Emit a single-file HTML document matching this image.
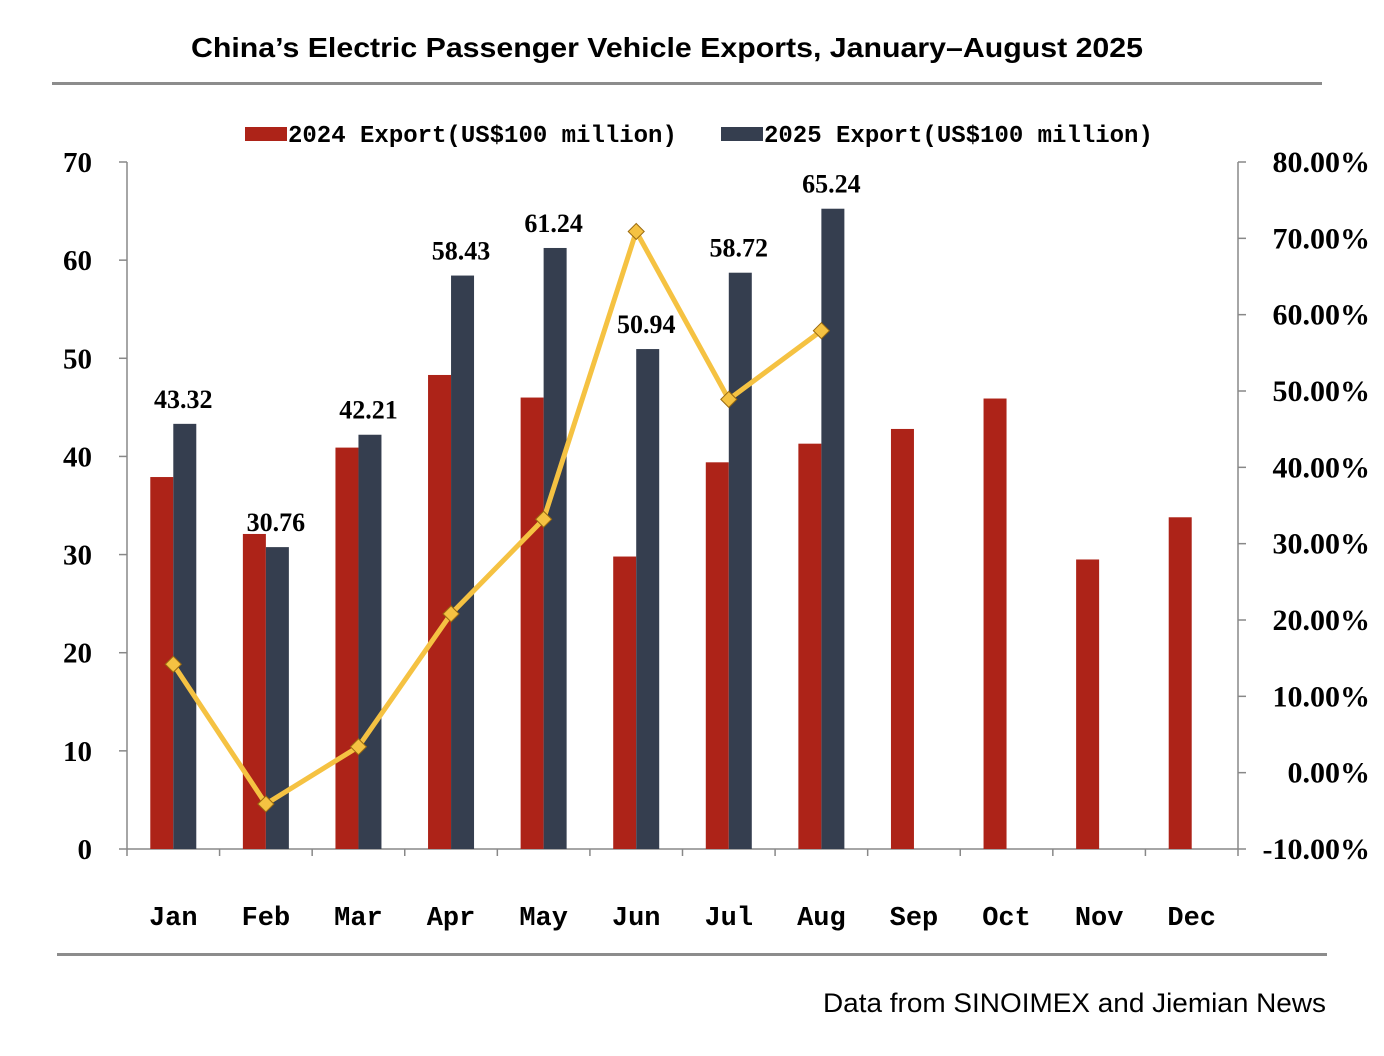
<!DOCTYPE html>
<html><head><meta charset="utf-8"><style>
body{margin:0;background:#fff}
svg{display:block}
</style></head><body>
<svg id="c" width="1384" height="1056" xmlns="http://www.w3.org/2000/svg">
<text x="667" y="57" text-anchor="middle" font-family="Liberation Sans, sans-serif" font-weight="bold" font-size="28" textLength="952" lengthAdjust="spacingAndGlyphs" fill="#000">China’s Electric Passenger Vehicle Exports, January–August 2025</text>
<rect x="52" y="82" width="1270" height="3" fill="#8c8c8c"/>
<rect x="57" y="953" width="1270" height="3" fill="#8c8c8c"/>
<text x="1326" y="1012" text-anchor="end" font-family="Liberation Sans, sans-serif" font-size="27" textLength="503" lengthAdjust="spacingAndGlyphs" fill="#000">Data from SINOIMEX and Jiemian News</text>
<g>
<rect x="245" y="127" width="42" height="14" fill="#ad2318"/>
<text x="288" y="142" font-family="Liberation Mono, monospace" font-weight="bold" font-size="24" fill="#000">2024 Export(US$100 million)</text>
<rect x="721" y="127" width="42" height="14" fill="#353e4f"/>
<text x="764" y="142" font-family="Liberation Mono, monospace" font-weight="bold" font-size="24" fill="#000">2025 Export(US$100 million)</text>
</g>
<g id="g"></g>
</svg>
<script>
const months=["Jan","Feb","Mar","Apr","May","Jun","Jul","Aug","Sep","Oct","Nov","Dec"];
const exports2024=[37.9,32.1,40.9,48.3,46.0,29.8,39.4,41.3,42.8,45.9,29.5,33.8];
const exports2025=[43.32,30.76,42.21,58.43,61.24,50.94,58.72,65.24];
const growthPct=[14.2,-4.1,3.4,20.8,33.2,70.9,48.9,57.9];
const leftTicks=[0,10,20,30,40,50,60,70];
const rightTicks=[-10,0,10,20,30,40,50,60,70,80];
const X0=127,X1=1238,Y0=849,YT=162;
const slot=(X1-X0)/12;
const yL=v=>Y0-(v/70)*(Y0-YT);
const yR=v=>Y0-((v+10)/90)*(Y0-YT);
const xC=i=>X0+slot*(i+0.5);
const g=document.getElementById('g');
const NS="http://www.w3.org/2000/svg";
function mk(t,a,p){const e=document.createElementNS(NS,t);for(const k in a)e.setAttribute(k,a[k]);(p||g).appendChild(e);return e;}
let e=mk('line',{x1:X0,y1:YT,x2:X0,y2:Y0,stroke:'#888','stroke-width':1.5});


e=mk('line',{x1:X1,y1:YT,x2:X1,y2:Y0,stroke:'#888','stroke-width':1.5});


e=mk('line',{x1:X0,y1:Y0,x2:X1,y2:Y0,stroke:'#888','stroke-width':1.5});


for(let i=0;i<=12;i++){mk('line',{x1:X0+slot*i,y1:Y0,x2:X0+slot*i,y2:Y0+7,stroke:'#888','stroke-width':1.5});}
leftTicks.forEach(v=>{
 mk('line',{x1:X0-8,y1:yL(v),x2:X0,y2:yL(v),stroke:'#888','stroke-width':1.5});
 const t=mk('text',{x:92,y:yL(v)+10,'text-anchor':'end','font-family':'Liberation Serif, serif','font-weight':'bold','font-size':29});
 t.textContent=v;
 
 
});
rightTicks.forEach(v=>{
 mk('line',{x1:X1,y1:yR(v),x2:X1+8,y2:yR(v),stroke:'#888','stroke-width':1.5});
 const t=mk('text',{x:1370,y:yR(v)+10,'text-anchor':'end','font-family':'Liberation Serif, serif','font-weight':'bold','font-size':30});
 t.textContent=v.toFixed(2)+'%';
 
 
});
months.forEach((m,i)=>{
 const t=mk('text',{x:xC(i),y:925,'text-anchor':'middle','font-family':'Liberation Mono, monospace','font-weight':'bold','font-size':27});
 t.textContent=m;
 
 
});
const bw=23;
exports2024.forEach((v,i)=>{
 const r=mk('rect',{x:xC(i)-bw,y:yL(v),width:bw,height:Y0-yL(v),fill:'#ad2318'});
 
 
});
exports2025.forEach((v,i)=>{
 const r=mk('rect',{x:xC(i),y:yL(v),width:bw,height:Y0-yL(v),fill:'#353e4f'});
 
 
 const t=mk('text',{x:xC(i)+10,y:yL(v)-16,'text-anchor':'middle','font-family':'Liberation Serif, serif','font-weight':'bold','font-size':26});
 t.textContent=v.toFixed(2);
 
 
});
const pts=growthPct.map((v,i)=>xC(i)+','+yR(v)).join(' ');
const pl=mk('polyline',{points:pts,fill:'none',stroke:'#f5c242','stroke-width':5,'stroke-linejoin':'round'});


growthPct.forEach((v,i)=>{
 const x=xC(i),y=yR(v),s=8;
 const d=mk('polygon',{points:`${x},${y-s} ${x+s},${y} ${x},${y+s} ${x-s},${y}`,fill:'#f5c242',stroke:'#9a6a10','stroke-width':1});
 
 
});
</script>
</body></html>
